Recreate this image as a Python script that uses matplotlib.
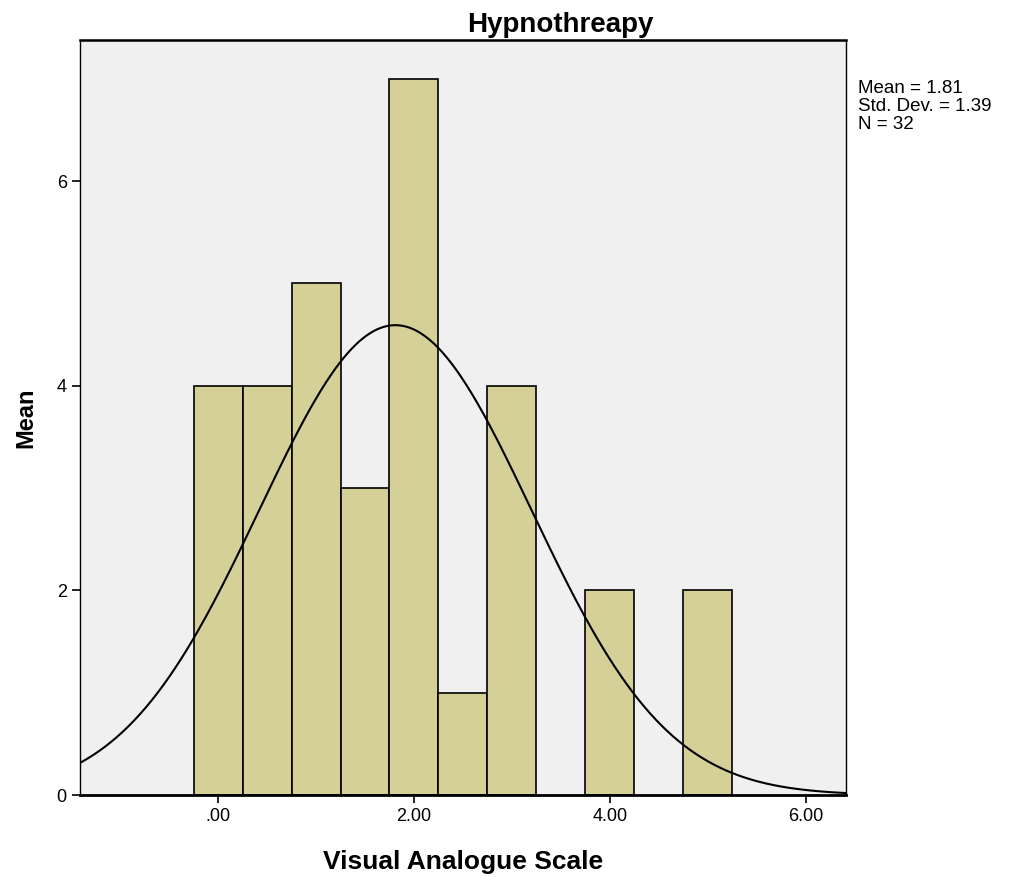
import numpy as np
import matplotlib
matplotlib.use('Agg')
import matplotlib.pyplot as plt

plt.rcParams['font.family'] = ['Liberation Sans', 'DejaVu Sans']

# Histogram data (bin centres and counts)
bin_centers = [0.0, 0.5, 1.0, 1.5, 2.0, 2.5, 3.0, 3.5, 4.0, 4.5, 5.0]
counts = [4, 4, 5, 3, 7, 1, 4, 0, 2, 0, 2]
bin_width = 0.5

# Summary statistics
mean_val = 1.81
std_val = 1.39
n_val = 32

fig = plt.figure(figsize=(10.13, 8.77), dpi=100)
ax = fig.add_axes([0.079, 0.0935, 0.756, 0.861])
ax.set_facecolor('#f0f0f0')

# Bars
for c, h in zip(bin_centers, counts):
    if h > 0:
        ax.bar(c, h, width=bin_width, color='#d4d098', edgecolor='black',
               linewidth=1.2, zorder=2)

# Normal curve
xs = np.linspace(-1.45, 6.45, 400)
ys = n_val * bin_width / (std_val * np.sqrt(2 * np.pi)) * np.exp(-0.5 * ((xs - mean_val) / std_val) ** 2)
ax.plot(xs, ys, color='black', linewidth=1.5, zorder=3)

ax.set_xlim(-1.41, 6.41)
ax.set_ylim(0, 7.38)
ax.set_xticks([0, 2, 4, 6])
ax.set_xticklabels(['.00', '2.00', '4.00', '6.00'])
ax.set_yticks([0, 2, 4, 6])
ax.set_yticklabels(['0', '2', '4', '6'])
ax.tick_params(direction='out', length=6, width=1.2, labelsize=13)

for s in ['left', 'right']:
    ax.spines[s].set_linewidth(1.0)
ax.spines['top'].set_linewidth(1.8)
ax.spines['bottom'].set_linewidth(2.0)

fig.text(0.553, 0.972, 'Hypnothreapy', fontsize=20, fontweight='bold',
         ha='center', va='center')
ax.set_xlabel('Visual Analogue Scale', fontsize=19, fontweight='bold', labelpad=18)
ax.set_ylabel('Mean', fontsize=17, fontweight='bold', labelpad=14)

fig.text(0.847, 0.909, 'Mean = %.2f\nStd. Dev. = %.2f\nN = %d' % (mean_val, std_val, n_val),
         fontsize=13.5, va='top', ha='left', linespacing=1.1)

fig.savefig('out.png', dpi=100)
